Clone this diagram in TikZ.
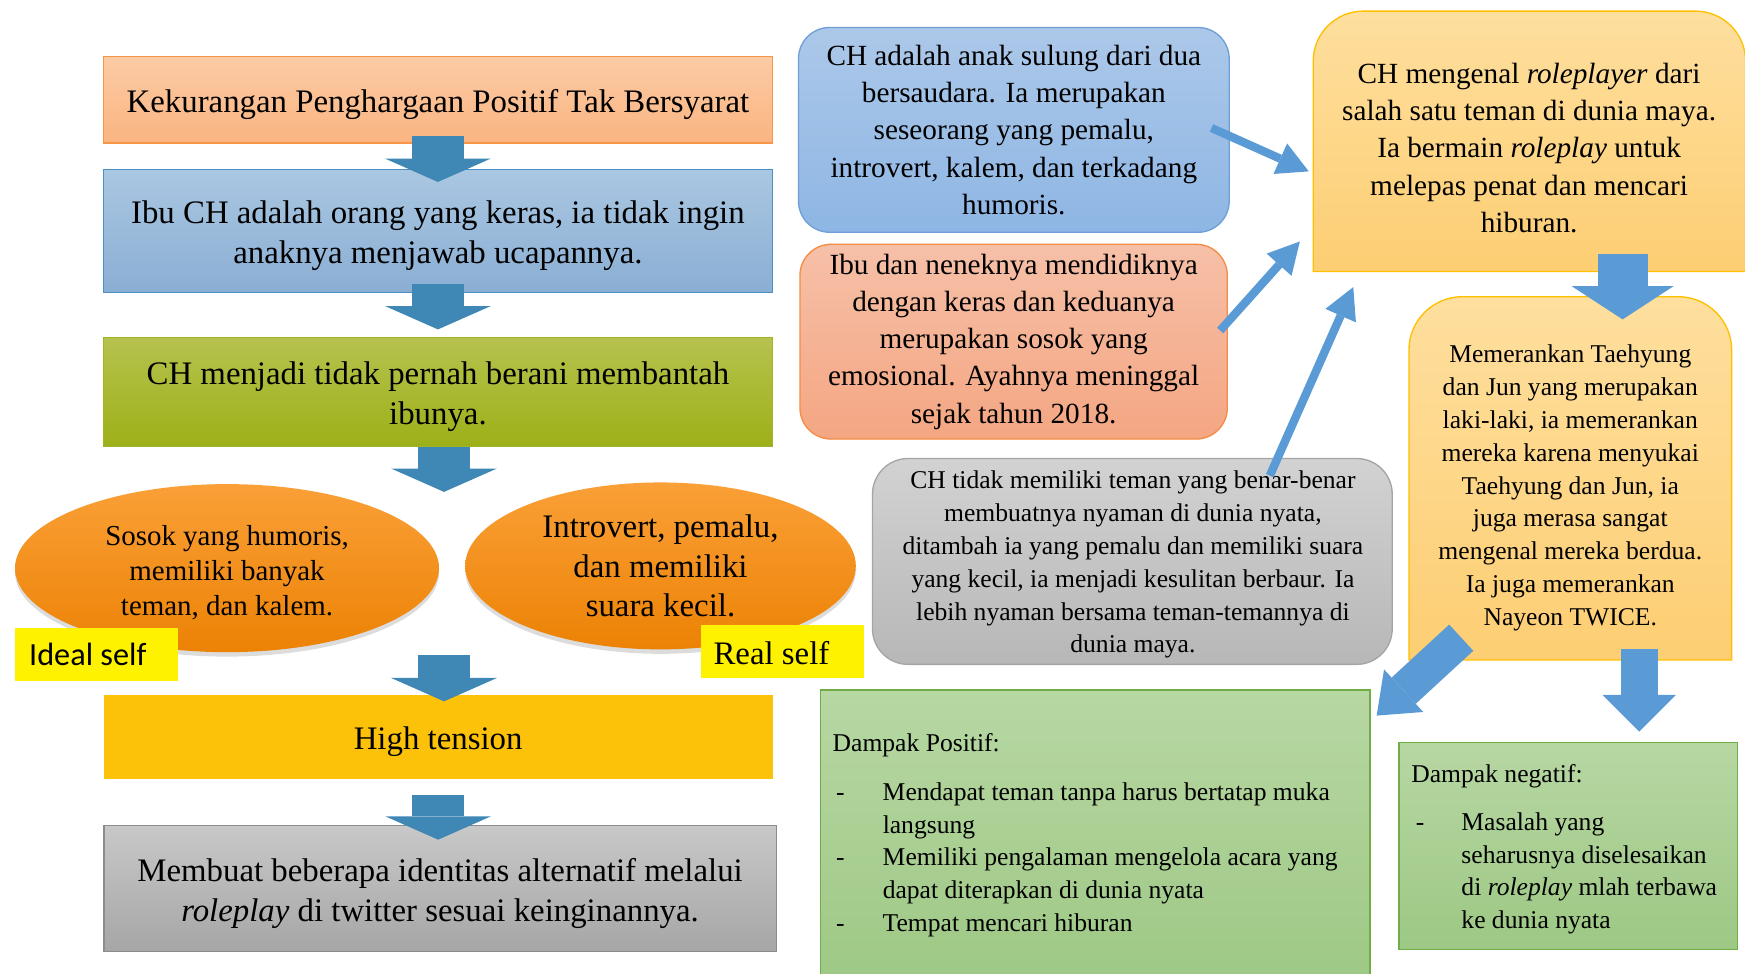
\documentclass[tikz,border=0pt]{standalone}
\usepackage{fontspec}
\setmainfont{Liberation Serif}
\newfontfamily\calibrifont{Carlito}
\usetikzlibrary{arrows.meta,shadows,shapes.geometric}
\definecolor{o1t}{RGB}{252,203,165}
\definecolor{o1b}{RGB}{250,180,128}
\definecolor{o1d}{RGB}{247,150,70}
\definecolor{b2t}{RGB}{170,199,226}
\definecolor{b2b}{RGB}{138,174,211}
\definecolor{b2d}{RGB}{75,145,200}
\definecolor{g3t}{RGB}{182,194,78}
\definecolor{g3b}{RGB}{158,176,24}
\definecolor{g3d}{RGB}{160,180,40}
\definecolor{arrL}{RGB}{63,135,181}
\definecolor{elt}{RGB}{250,160,55}
\definecolor{elb}{RGB}{236,130,5}
\definecolor{hty}{RGB}{252,194,10}
\definecolor{gyt}{RGB}{200,200,200}
\definecolor{gyb}{RGB}{166,166,166}
\definecolor{gyd}{RGB}{140,140,140}
\definecolor{bmt}{RGB}{172,200,233}
\definecolor{bmb}{RGB}{142,182,228}
\definecolor{bmd}{RGB}{110,160,215}
\definecolor{smt}{RGB}{246,192,168}
\definecolor{smb}{RGB}{244,166,130}
\definecolor{smd}{RGB}{245,140,70}
\definecolor{gmt}{RGB}{210,210,210}
\definecolor{gmb}{RGB}{183,183,183}
\definecolor{gmd}{RGB}{165,165,165}
\definecolor{yt}{RGB}{254,223,158}
\definecolor{yb}{RGB}{253,206,115}
\definecolor{yd}{RGB}{255,192,0}
\definecolor{grt}{RGB}{183,215,163}
\definecolor{grb}{RGB}{157,200,132}
\definecolor{grd}{RGB}{112,173,71}
\definecolor{arrR}{RGB}{91,155,213}
\begin{document}
\begin{tikzpicture}[x=1pt,y=-1pt,
  lbox/.style={rectangle, inner sep=0pt, minimum width=601pt, line width=1pt},
  ltext/.style={inner sep=0pt, align=center, font=\fontsize{29.5pt}{36pt}\selectfont},
  rbox/.style={rectangle, rounded corners=28pt, inner sep=0pt, align=center, line width=1.2pt},
  ell/.style={ellipse, inner sep=0pt, align=center, top color=elt, bottom color=elb, drop shadow={opacity=0.28, shadow xshift=0pt, shadow yshift=-4pt}},
  ylab/.style={rectangle, fill=yellow, inner sep=0pt, minimum width=146pt, minimum height=47.5pt},
  fA/.style={font=\fontsize{26.3pt}{33.5pt}\selectfont},
  fB/.style={font=\fontsize{23pt}{29.5pt}\selectfont},
  grbox/.style={rectangle, draw=grd, line width=1.2pt, top color=grt, bottom color=grb, inner sep=0pt},
  ybox/.style={draw=yd, line width=1.2pt, top color=yt, bottom color=yb},
  barL/.style={draw=arrL, line width=47pt, -{Triangle[length=21pt,width=95pt,line width=0pt]}},
  thinR/.style={draw=arrR, line width=7.5pt, -{Triangle[length=28pt,width=30pt,line width=0pt]}},
]
\useasboundingbox (0,0) rectangle (1568,875);
% left column
\node[lbox, draw=o1d, top color=o1t, bottom color=o1b, minimum height=78pt] (b1) at (393.5,89.5) {};
\node[ltext] (b1t) at (393.5,93.5) {Kekurangan Penghargaan Positif Tak Bersyarat};
\node[lbox, draw=b2d, top color=b2t, bottom color=b2b, minimum height=111pt] (b2) at (393.5,207.5) {};
\node[ltext] (b2t) at (393.5,211.5) {Ibu CH adalah orang yang keras, ia tidak ingin\\anaknya menjawab ucapannya.};
\node[lbox, draw=g3d, top color=g3t, bottom color=g3b, minimum height=98pt] (b3) at (393.5,352) {};
\node[ltext] (b3t) at (393.5,356) {CH menjadi tidak pernah berani membantah\\ibunya.};
\node[ell, minimum width=381pt, minimum height=151pt] (e1) at (204,510.5) {};
\node[inner sep=0pt, align=center, font=\fontsize{26pt}{31.5pt}\selectfont] (e1t) at (204,514.5) {Sosok yang humoris,\\memiliki banyak\\teman, dan kalem.};
\node[ell, minimum width=351pt, minimum height=150pt, font=\fontsize{29.5pt}{35.5pt}\selectfont] (e2) at (593.5,508.5) {Introvert, pemalu,\\dan memiliki\\suara kecil.};
\node[ylab] (l1) at (86.75,588.3) {};
\node[anchor=base west, inner sep=0pt, font=\calibrifont\fontsize{29pt}{35pt}\selectfont] (l1t) at (26,598) {Ideal self};
\node[ylab] (l2) at (703,585.5) {};
\node[anchor=base west, inner sep=0pt, font=\fontsize{29.5pt}{35pt}\selectfont] (l2t) at (641,597.5) {Real self};
\node[lbox, fill=hty, minimum height=75pt] (ht) at (393.7,662.2) {};
\node[ltext] (htt) at (393.7,666.2) {High tension};
\node[lbox, draw=gyd, top color=gyt, bottom color=gyb, minimum height=113pt, minimum width=604pt] (gb) at (395.4,798.5) {};
\node[ltext] (gbt) at (395.4,802.5) {Membuat beberapa identitas alternatif melalui\\\textit{roleplay} di twitter sesuai keinginannya.};
% middle column
\node[rbox, draw=bmd, top color=bmt, bottom color=bmb, minimum width=387pt, minimum height=184pt, fA] (bm) at (911,116.7) {CH adalah anak sulung dari dua\\bersaudara. Ia merupakan\\seseorang yang pemalu,\\introvert, kalem, dan terkadang\\humoris.};
\node[rbox, draw=smd, top color=smt, bottom color=smb, minimum width=384pt, minimum height=175pt, fA] (sm) at (910.8,307) {Ibu dan neneknya mendidiknya\\dengan keras dan keduanya\\merupakan sosok yang\\emosional. Ayahnya meninggal\\sejak tahun 2018.};
\node[rbox, rounded corners=32pt, draw=gmd, top color=gmt, bottom color=gmb, minimum width=467pt, minimum height=185pt] (gm) at (1017.5,504.5) {};
\node[fB, align=center, inner sep=0pt] (gmt) at (1018,507.5) {CH tidak memiliki teman yang benar-benar\\membuatnya nyaman di dunia nyata,\\ditambah ia yang pemalu dan memiliki suara\\yang kecil, ia menjadi kesulitan berbaur. Ia\\lebih nyaman bersama teman-temannya di\\dunia maya.};
% right column
\path[ybox] (1180,244) -- (1180,55) .. controls (1180,30.1) and (1200.1,10) .. (1225,10) -- (1523.5,10) .. controls (1548.4,10) and (1568.5,30.1) .. (1568.5,55) -- (1568.5,244) -- cycle;
\node[fA, align=center, inner sep=0pt] (ytx) at (1374,133) {CH mengenal \textit{roleplayer} dari\\salah satu teman di dunia maya.\\Ia bermain \textit{roleplay} untuk\\melepas penat dan mencari\\hiburan.};
\path[ybox] (1266,593) -- (1266,314.6) .. controls (1266,288.1) and (1287.5,266.6) .. (1314,266.6) -- (1508,266.6) .. controls (1534.5,266.6) and (1556,288.1) .. (1556,314.6) -- (1556,593) -- cycle;
\node[fB, align=center, inner sep=0pt] (y2x) at (1411,438.5) {Memerankan Taehyung\\dan Jun yang merupakan\\laki-laki, ia memerankan\\mereka karena menyukai\\Taehyung dan Jun, ia\\juga merasa sangat\\mengenal mereka berdua.\\Ia juga memerankan\\Nayeon TWICE.};
% green boxes
\node[grbox, minimum width=494pt, minimum height=270pt] (gp) at (984,755) {};
\node[anchor=base west, inner sep=0pt, fB] (gph) at (748,675) {Dampak Positif:};
\node[anchor=base west, inner sep=0pt, fB] (gpl) at (751,719) {\begin{tabular}[t]{@{}p{42pt}@{}l@{}}-&Mendapat teman tanpa harus bertatap muka\\&langsung\\-&Memiliki pengalaman mengelola acara yang\\&dapat diterapkan di dunia nyata\\-&Tempat mencari hiburan\end{tabular}};
\node[grbox, minimum width=304pt, minimum height=186pt] (gn) at (1409,760) {};
\node[anchor=base west, inner sep=0pt, fB] (gnh) at (1268,703) {Dampak negatif:};
\node[anchor=base west, inner sep=0pt, fB] (gnl) at (1272,746) {\begin{tabular}[t]{@{}p{41pt}@{}l@{}}-&Masalah yang\\&seharusnya diselesaikan\\&di \textit{roleplay} mlah terbawa\\&ke dunia nyata\end{tabular}};
% left block arrows
\draw[barL] ([yshift=6.5pt]b1.south) -- ([yshift=-12pt]b2.north);
\draw[barL] ([yshift=8pt]b2.south) -- ([yshift=6.5pt]b3.north);
\coordinate (a3e) at (399,442);
\draw[barL] ([xshift=5.5pt]b3.south) -- (a3e);
\coordinate (a4s) at (399,589);
\draw[barL] (a4s) -- ([xshift=5.3pt,yshift=-6pt]ht.north);
\draw[barL] ([yshift=-14.3pt]ht.south) -- ([xshift=-1.7pt,yshift=-13pt]gb.north);
% thin arrows
\coordinate (t1e) at (1176,154);
\coordinate (t2e) at (1168,217);
\coordinate (t3e) at (1216,258);
\draw[thinR] ([xshift=-16.5pt,yshift=1.7pt]bm.east) -- (t1e);
\draw[thinR] ([xshift=-7pt,yshift=10pt]sm.east) -- (t2e);
\draw[thinR] ([xshift=123.5pt,yshift=-16pt]gm.north) -- (t3e);
% right block arrows
\coordinate (r1s) at (1458,228);
\coordinate (r1e) at (1458,287);
\draw[draw=arrR, line width=45pt, -{Triangle[length=30pt,width=92pt,line width=0pt]}] (r1s) -- (r1e);
\coordinate (r2s) at (1313,573);
\coordinate (r2e) at (1237,643);
\draw[draw=arrR, line width=32pt, -{Triangle[length=33pt,width=52pt,line width=0pt]}] (r2s) -- (r2e);
\coordinate (r3s) at (1473,583);
\draw[draw=arrR, line width=33pt, -{Triangle[length=33pt,width=66pt,line width=0pt]}] (r3s) -- ([xshift=64pt,yshift=9pt]gn.north);
\end{tikzpicture}
\end{document}
